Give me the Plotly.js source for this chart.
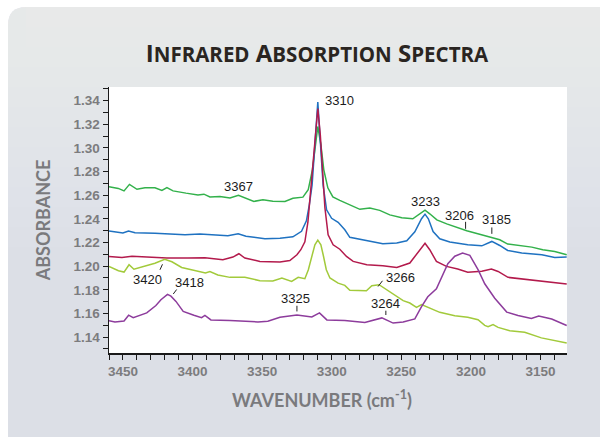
<!DOCTYPE html>
<html>
<head>
<meta charset="utf-8">
<script src="https://cdn.plot.ly/plotly-3.0.1.min.js"></script>
<style>
  html, body { margin: 0; padding: 0; background: #ffffff; }
  #chart { width: 600px; height: 437px; }
</style>
</head>
<body>
<div id="chart"></div>
<script>
// Wavenumbers (cm-1) and absorbance readings for each spectrum
const wnGreen = [3460, 3453.3, 3449.2, 3445.3, 3439.9, 3434.2, 3427, 3422, 3418.4, 3414, 3404.7, 3396.1, 3391.8, 3387.5, 3380.3, 3373.1, 3367, 3360.9, 3355.9, 3349.4, 3342.3, 3333.6, 3327.9, 3320.7, 3316.9, 3313.9, 3311.8, 3310, 3307.8, 3305.7, 3302.8, 3299.2, 3294.2, 3287, 3279.8, 3272.6, 3265.5, 3258.3, 3249.7, 3241.8, 3236.7, 3233, 3229.6, 3224.5, 3217.4, 3210.9, 3203, 3195.1, 3185.1, 3179.3, 3173.6, 3163.5, 3156.3, 3148.4, 3139.8, 3131.2];
const absGreen = [1.2673, 1.2658, 1.2637, 1.2692, 1.2650, 1.2663, 1.2663, 1.2641, 1.2665, 1.2637, 1.2618, 1.2603, 1.2609, 1.2586, 1.2589, 1.2576, 1.2599, 1.2574, 1.2548, 1.2561, 1.2550, 1.2548, 1.2574, 1.2584, 1.2646, 1.2815, 1.3040, 1.3182, 1.3026, 1.2815, 1.2663, 1.2586, 1.2557, 1.2519, 1.2481, 1.2491, 1.2472, 1.2434, 1.2409, 1.2401, 1.2440, 1.2474, 1.2443, 1.2392, 1.2358, 1.2330, 1.2299, 1.2274, 1.2243, 1.2223, 1.2187, 1.2172, 1.2161, 1.2139, 1.2124, 1.2096];

const wnBlue = [3460, 3450, 3446, 3441.3, 3427, 3416.2, 3405.4, 3394.7, 3383.9, 3374.6, 3367.2, 3361.6, 3348, 3337.2, 3327.9, 3321.7, 3318.2, 3316.1, 3314.1, 3311.6, 3310, 3308.5, 3306.2, 3303.7, 3300.1, 3295.4, 3290.6, 3287, 3279.8, 3270.5, 3263.3, 3253.3, 3246.1, 3240.3, 3235.5, 3233, 3230.6, 3227.2, 3222.4, 3215.2, 3208, 3202.3, 3192.2, 3187.9, 3185, 3179.3, 3173.6, 3163.5, 3149.1, 3139.8, 3131.2];
const absBlue = [1.2297, 1.2280, 1.2298, 1.2282, 1.2278, 1.2272, 1.2265, 1.2271, 1.2263, 1.2257, 1.2274, 1.2253, 1.2232, 1.2236, 1.2248, 1.2295, 1.2384, 1.2519, 1.2688, 1.3110, 1.3389, 1.3110, 1.2688, 1.2477, 1.2405, 1.2371, 1.2308, 1.2244, 1.2229, 1.2209, 1.2189, 1.2195, 1.2215, 1.2291, 1.2401, 1.2440, 1.2401, 1.2293, 1.2232, 1.2204, 1.2192, 1.2181, 1.2172, 1.2194, 1.2209, 1.2175, 1.2133, 1.2111, 1.2096, 1.2074, 1.2077];

const wnRed = [3460, 3450.7, 3443.5, 3427, 3418.4, 3403.3, 3391.1, 3378.2, 3371, 3366.7, 3362.4, 3351.6, 3337.2, 3330.1, 3325, 3322.2, 3319.3, 3317.1, 3315.4, 3313.6, 3311.8, 3310, 3308.2, 3306.7, 3304.9, 3302.6, 3299, 3294.2, 3289.4, 3284.6, 3274.8, 3263.3, 3253.3, 3243.9, 3237.9, 3233, 3229.6, 3224.8, 3217.6, 3209.5, 3202.3, 3192.2, 3185.3, 3180.5, 3173.4, 3163.5, 3149.1, 3131.2];
const absRed = [1.2082, 1.2074, 1.2084, 1.2074, 1.2069, 1.2069, 1.2071, 1.2054, 1.2077, 1.2105, 1.2069, 1.2040, 1.2035, 1.2048, 1.2096, 1.2139, 1.2206, 1.2375, 1.2603, 1.2899, 1.3153, 1.3334, 1.3110, 1.2815, 1.2494, 1.2265, 1.2181, 1.2143, 1.2082, 1.2040, 1.2012, 1.2003, 1.1989, 1.2026, 1.2122, 1.2194, 1.2139, 1.2040, 1.1998, 1.1976, 1.1949, 1.1957, 1.1976, 1.1955, 1.1905, 1.1891, 1.1871, 1.1849];

const wnLime = [3460, 3453.2, 3449.2, 3445.6, 3442.1, 3434.2, 3427, 3420, 3414.8, 3407.8, 3400.6, 3393.5, 3390.7, 3387.5, 3381.8, 3373.1, 3362.4, 3351.6, 3342.3, 3335.8, 3328.8, 3324.1, 3319.3, 3316.8, 3314.5, 3312.1, 3310, 3307.8, 3306, 3303.9, 3301.3, 3295.4, 3290.6, 3287, 3275.1, 3271.2, 3266, 3258.3, 3248.7, 3243.9, 3239.1, 3235.5, 3229.6, 3222.4, 3211.6, 3202.3, 3194.9, 3190.1, 3187.7, 3184.1, 3180.5, 3172.1, 3161.4, 3149.4, 3131.2];
const absLime = [1.1998, 1.1961, 1.1950, 1.2012, 1.1974, 1.1998, 1.2025, 1.2058, 1.2037, 1.1989, 1.1970, 1.1949, 1.1942, 1.1955, 1.1925, 1.1905, 1.1905, 1.1877, 1.1874, 1.1900, 1.1871, 1.1905, 1.1894, 1.1970, 1.2079, 1.2181, 1.2221, 1.2181, 1.2088, 1.1970, 1.1900, 1.1856, 1.1837, 1.1796, 1.1792, 1.1834, 1.1843, 1.1786, 1.1708, 1.1688, 1.1651, 1.1674, 1.1646, 1.1609, 1.1581, 1.1567, 1.1547, 1.1499, 1.1488, 1.1505, 1.1482, 1.1454, 1.1440, 1.1393, 1.1350];

const wnPurple = [3460, 3455.7, 3449.2, 3445.9, 3442.6, 3432.9, 3426.3, 3422.7, 3418, 3415.5, 3411.9, 3406.7, 3399, 3393.5, 3391.1, 3386.8, 3373.1, 3362.4, 3353, 3345.9, 3337.2, 3325, 3317.9, 3314.3, 3308.8, 3303.5, 3290.6, 3284.6, 3276.2, 3264, 3255.9, 3248.7, 3240.3, 3235.5, 3231, 3224.8, 3220, 3216.6, 3211.6, 3206, 3200.8, 3194.9, 3190.1, 3182.9, 3174.3, 3166.2, 3156.6, 3151.3, 3142, 3136.2, 3131.2];
const absPurple = [1.1539, 1.1528, 1.1536, 1.1585, 1.1564, 1.1604, 1.1667, 1.1716, 1.1761, 1.1746, 1.1702, 1.1617, 1.1585, 1.1564, 1.1583, 1.1545, 1.1541, 1.1533, 1.1528, 1.1533, 1.1568, 1.1587, 1.1574, 1.1570, 1.1604, 1.1545, 1.1541, 1.1533, 1.1524, 1.1562, 1.1518, 1.1528, 1.1553, 1.1657, 1.1741, 1.1809, 1.1936, 1.2020, 1.2084, 1.2111, 1.2092, 1.1970, 1.1851, 1.1729, 1.1611, 1.1583, 1.1558, 1.1578, 1.1553, 1.1524, 1.1498];

// Band positions called out on the chart
const bandLabels = [3310, 3367, 3233, 3206, 3185, 3420, 3418, 3325, 3266, 3264];

const spectra = {
  green:  { wn: wnGreen,  abs: absGreen,  color: '#33b14b' },
  blue:   { wn: wnBlue,   abs: absBlue,   color: '#1f72c1' },
  red:    { wn: wnRed,    abs: absRed,    color: '#b31a4c' },
  lime:   { wn: wnLime,   abs: absLime,   color: '#a2ca3b' },
  purple: { wn: wnPurple, abs: absPurple, color: '#8d3c9c' }
};

// Which curve each band label sits on; text offset and leader tick ends in pixels (up = positive)
const labelPlacement = {
  3310: { on: 'blue',   dx: 5,    dy: 2,   xanchor: 'left' },
  3367: { on: 'green',  dx: 0,    dy: 9 },
  3233: { on: 'green',  dx: 0,    dy: 9 },
  3206: { on: 'green',  dx: -3,   dy: 14,   tick: [3, 7.6, 3, 0.6] },
  3185: { on: 'blue',   dx: 5,    dy: 22,   tick: [0, 14, 0, 7.6] },
  3420: { on: 'lime',   dx: -17,  dy: -20,  tick: [-4.7, -10.5, -2.2, -5] },
  3418: { on: 'purple', dx: 22.5, dy: 11.6, tick: [9.2, 4.9, 5.8, 0.4] },
  3325: { on: 'purple', dx: -1,   dy: 16,   tick: [0, 9.2, 0, 3.5] },
  3266: { on: 'lime',   dx: 21,   dy: 7.6,  tick: [3.4, 3.9, -1, -1.8] },
  3264: { on: 'purple', dx: 4,    dy: 14,   tick: [4, 7.2, 4, 2.9] }
};

// Absorbance of a spectrum at a wavenumber, by linear interpolation between readings
function absAt(spec, wn) {
  const w = spec.wn, a = spec.abs;
  for (let i = 0; i < w.length - 1; i++) {
    if (wn <= w[i] && wn >= w[i + 1]) {
      const t = (w[i] - wn) / (w[i] - w[i + 1]);
      return a[i] + t * (a[i + 1] - a[i]);
    }
  }
  return a[a.length - 1];
}

const traces = Object.keys(spectra).map(name => ({
  type: 'scatter',
  mode: 'lines',
  name: name,
  x: spectra[name].wn,
  y: spectra[name].abs,
  line: { color: spectra[name].color, width: 1.5 },
  hoverinfo: 'x+y',
  showlegend: false
}));

// Page geometry
const W = 600, H = 437;
const M = { l: 109, r: 33, t: 87, b: 84 };
const plotW = W - M.l - M.r, plotH = H - M.t - M.b;
const pX = px => (px - M.l) / plotW;
const pY = py => (H - M.b - py) / plotH;

// Grey card with a rounded top-left corner behind the chart
const cardL = 8, cardT = 7, rad = 18;
const cardPath =
  'M ' + pX(cardL) + ',' + pY(H + 20) +
  ' L ' + pX(cardL) + ',' + pY(cardT + rad) +
  ' Q ' + pX(cardL) + ',' + pY(cardT) + ' ' + pX(cardL + rad) + ',' + pY(cardT) +
  ' L ' + pX(W + 20) + ',' + pY(cardT) +
  ' L ' + pX(W + 20) + ',' + pY(H + 20) + ' Z';

const shapes = [
  { type: 'path', xref: 'paper', yref: 'paper', path: cardPath,
    fillcolor: '#dcdfe6', line: { width: 0 }, layer: 'below' }
];
// soft lightening towards the top of the card
for (let k = 1; k <= 12; k++) {
  shapes.push({
    type: 'rect', xref: 'paper', yref: 'paper',
    x0: pX(cardL + (k < 3 ? rad : 0)), x1: pX(W + 20),
    y0: pY(cardT), y1: pY(cardT + k * 20),
    fillcolor: 'rgba(255,255,255,0.042)', line: { width: 0 }, layer: 'below'
  });
}
// white plotting field
shapes.push({ type: 'rect', xref: 'paper', yref: 'paper', x0: 0, x1: 1, y0: 0, y1: 1,
  fillcolor: '#ffffff', line: { width: 0 }, layer: 'below' });

const axisTitleFont = { family: 'Lato, Open Sans, sans-serif', size: 18, color: '#7a7a7d', weight: 'bold' };

// Band labels, with short leader ticks anchored to the curve
const annotations = [];
const labelFont = { family: 'Liberation Sans, Arial, sans-serif', size: 13, color: '#1c1c1c' };
bandLabels.forEach(wn => {
  const p = labelPlacement[wn];
  const y = absAt(spectra[p.on], wn);
  annotations.push({
    x: wn, y: y, xref: 'x', yref: 'y',
    text: String(wn), showarrow: false,
    xanchor: p.xanchor || 'center', yanchor: 'middle',
    xshift: p.dx, yshift: p.dy,
    font: labelFont
  });
  if (p.tick) {
    shapes.push({
      type: 'line', xref: 'x', yref: 'y',
      xsizemode: 'pixel', ysizemode: 'pixel',
      xanchor: wn, yanchor: y,
      x0: p.tick[0], y0: p.tick[1], x1: p.tick[2], y1: p.tick[3],
      line: { color: '#222222', width: 1 }
    });
  }
});

// horizontal axis caption, set slightly left of the plot centre
annotations.push({
  xref: 'paper', yref: 'paper', x: pX(322), y: pY(399),
  xanchor: 'center', yanchor: 'middle', showarrow: false,
  text: 'WAVENUMBER (cm<sup>-1</sup>)', font: axisTitleFont
});

const tickFont = { family: 'Liberation Sans Narrow, Arial Narrow, Liberation Sans, sans-serif', size: 13.5, color: '#7c7c7e', weight: 'bold' };

const layout = {
  width: W, height: H,
  margin: M,
  paper_bgcolor: '#ffffff',
  plot_bgcolor: 'rgba(0,0,0,0)',
  showlegend: false,
  title: {
    text: 'I<span style="font-size:20.5px">NFRARED</span> A<span style="font-size:20.5px">BSORPTION</span> S<span style="font-size:20.5px">PECTRA</span>',
    xref: 'container', yref: 'container',
    x: 317 / W, xanchor: 'center',
    y: 1 - 54 / H, yanchor: 'middle',
    font: { family: 'Open Sans, Lato, sans-serif', size: 24, color: '#2a2521', weight: 'bold' }
  },
  xaxis: {
    range: [3460, 3131],
    tick0: 3450, dtick: 50,
    ticks: 'outside', ticklen: 5, tickwidth: 1, tickcolor: '#1a1a1a',
    minor: { ticks: 'outside', dtick: 10, tick0: 3450, ticklen: 5, tickwidth: 1, tickcolor: '#1a1a1a' },
    showline: true, linecolor: '#1a1a1a', linewidth: 1.5,
    showgrid: false, zeroline: false,
    tickfont: tickFont
  },
  yaxis: {
    range: [1.1265, 1.3516],
    tick0: 1.14, dtick: 0.02, tickformat: '.2f',
    ticks: 'outside', ticklen: 5, tickwidth: 1, tickcolor: '#1a1a1a',
    minor: { ticks: 'outside', dtick: 0.01, tick0: 1.14, ticklen: 5, tickwidth: 1, tickcolor: '#1a1a1a' },
    showline: true, linecolor: '#1a1a1a', linewidth: 1.5,
    showgrid: false, zeroline: false,
    tickfont: tickFont,
    title: { text: 'ABSORBANCE', font: axisTitleFont, standoff: 18 }
  },
  shapes: shapes,
  annotations: annotations
};

Plotly.newPlot('chart', traces, layout, { displayModeBar: false, staticPlot: true });
</script>
</body>
</html>
